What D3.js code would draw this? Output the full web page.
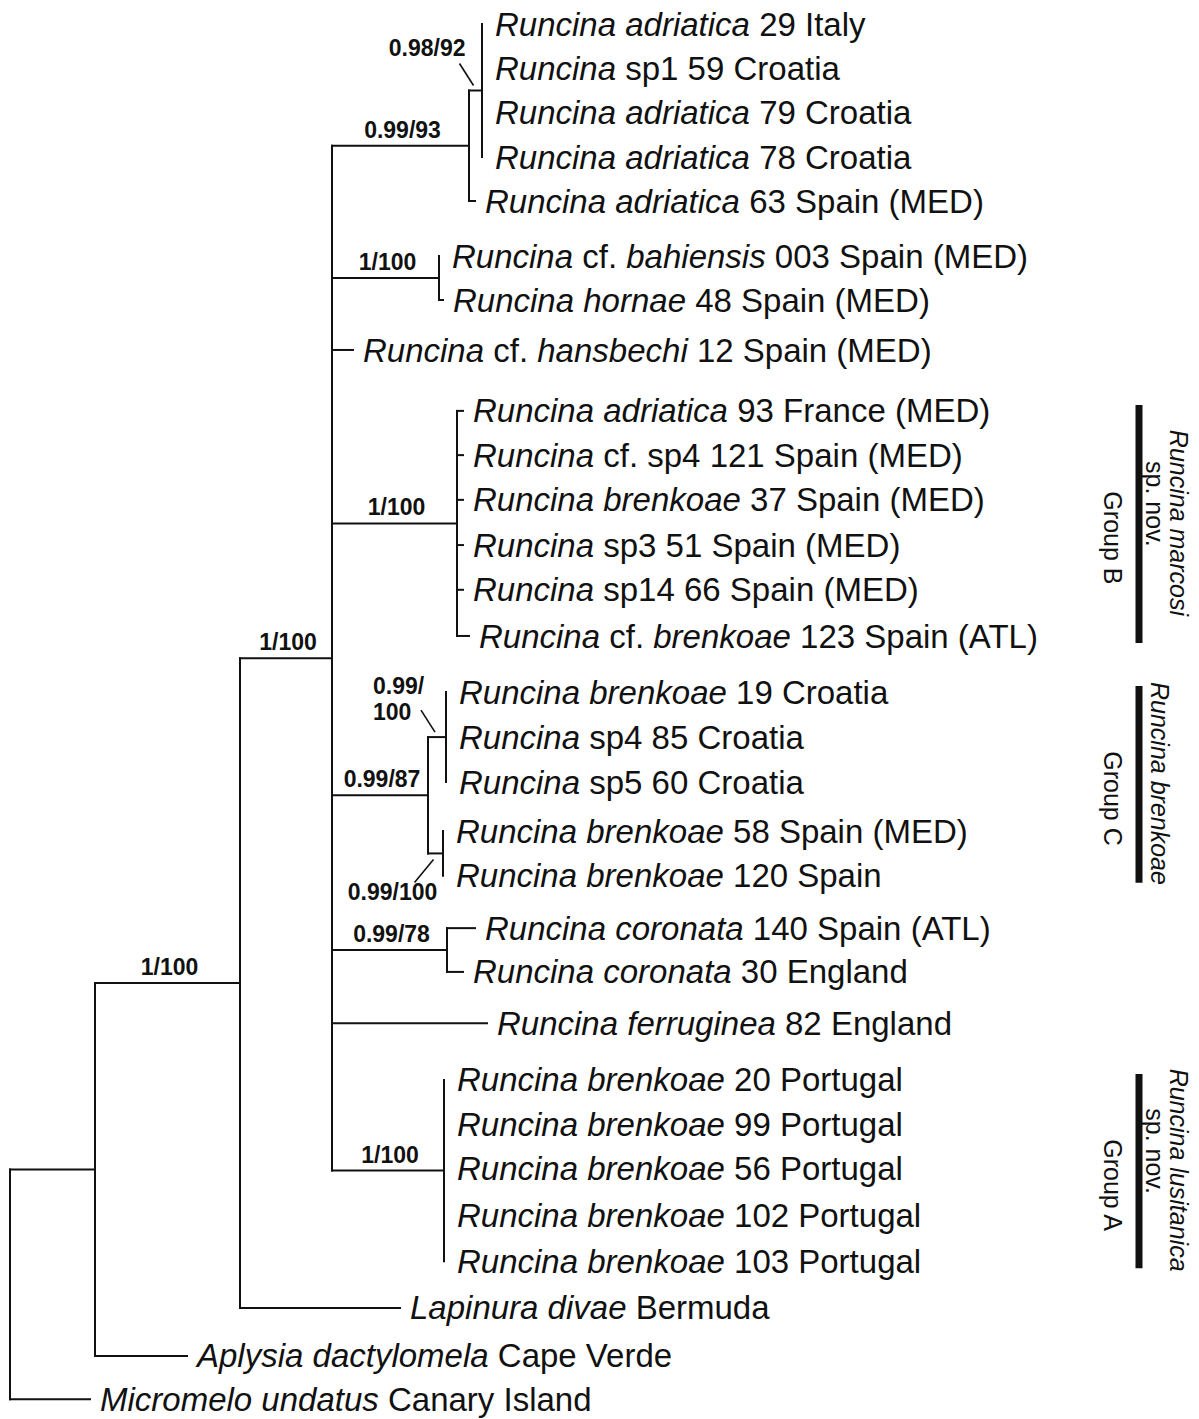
<!DOCTYPE html>
<html>
<head>
<meta charset="utf-8">
<script src="https://cdn.jsdelivr.net/npm/d3@7"></script>
<style>
  body { margin: 0; background: #fff; }
  svg { display: block; font-family: "Liberation Sans", Arial, sans-serif; }
  text { white-space: pre; }
</style>
</head>
<body>
<script>
"use strict";

// topology + branch lengths, leaves t0..t29 listed top to bottom
// ^ = support drawn with a leader line above, _ = below, | = line break
const newick =
  "((((((t0:0,t1:0,t2:0,t3:0)^0.98/92:0.013,t4:0.006)0.99/93:0.137," +
  "(t5:0,t6:0.004)1/100:0.107,t7:0.021," +
  "(t8:0.006,t9:0.006,t10:0.006,t11:0.006,t12:0.006,t13:0.012)1/100:0.125," +
  "((t14:0,t15:0,t16:0)^0.99/|100:0.018,(t17:0,t18:0)_0.99/100:0.015)0.99/87:0.096," +
  "(t19:0.028,t20:0.016)0.99/78:0.115,t21:0.155," +
  "(t22:0,t23:0,t24:0,t25:0,t26:0)1/100:0.112)1/100:0.092,t27:0.160)1/100:0.145," +
  "t28:0.092):0.085,t29:0.080);";

const taxa = [
  "*Runcina adriatica* 29 Italy",
  "*Runcina* sp1 59 Croatia",
  "*Runcina adriatica* 79 Croatia",
  "*Runcina adriatica* 78 Croatia",
  "*Runcina adriatica* 63 Spain (MED)",
  "*Runcina* cf. *bahiensis* 003 Spain (MED)",
  "*Runcina hornae* 48 Spain (MED)",
  "*Runcina* cf. *hansbechi* 12 Spain (MED)",
  "*Runcina adriatica* 93 France (MED)",
  "*Runcina* cf. sp4 121 Spain (MED)",
  "*Runcina brenkoae* 37 Spain (MED)",
  "*Runcina* sp3 51 Spain (MED)",
  "*Runcina* sp14 66 Spain (MED)",
  "*Runcina* cf. *brenkoae* 123 Spain (ATL)",
  "*Runcina brenkoae* 19 Croatia",
  "*Runcina* sp4 85 Croatia",
  "*Runcina* sp5 60 Croatia",
  "*Runcina brenkoae* 58 Spain (MED)",
  "*Runcina brenkoae* 120 Spain",
  "*Runcina coronata* 140 Spain (ATL)",
  "*Runcina coronata* 30 England",
  "*Runcina ferruginea* 82 England",
  "*Runcina brenkoae* 20 Portugal",
  "*Runcina brenkoae* 99 Portugal",
  "*Runcina brenkoae* 56 Portugal",
  "*Runcina brenkoae* 102 Portugal",
  "*Runcina brenkoae* 103 Portugal",
  "*Lapinura divae* Bermuda",
  "*Aplysia dactylomela* Cape Verde",
  "*Micromelo undatus* Canary Island"
];

// vertical slot of each leaf (rows are not perfectly even in the figure)
const leafRows = [0, 0.925, 1.85, 2.795, 3.72, 4.875, 5.8, 6.85, 8.13, 9.06,
  10.0, 10.95, 11.89, 12.86, 14.04, 15.0, 15.93, 16.96, 17.9, 19.0,
  19.92, 21.0, 22.19, 23.12, 24.06, 25.03, 26.0, 26.98, 27.99, 28.9];

const groupNames = ["Group B", "Group C", "Group A"];
const groupTaxa = ["*Runcina marcosi*|sp. nov.", "*Runcina brenkoae*", "*Runcina lusitanica*|sp. nov."];
const groupFirst = [8, 14, 22];
const groupLast = [13, 18, 26];

function parseNewick(s) {
  let i = 0;
  function node() {
    const n = { children: [] };
    if (s[i] === "(") {
      i++;
      n.children.push(node());
      while (s[i] === ",") { i++; n.children.push(node()); }
      i++;
    }
    let label = "";
    while (i < s.length && !",():;".includes(s[i])) label += s[i++];
    n.label = label;
    n.length = 0;
    if (s[i] === ":") {
      i++;
      let num = "";
      while (i < s.length && !",();".includes(s[i])) num += s[i++];
      n.length = +num;
    }
    if (!n.children.length) delete n.children;
    return n;
  }
  return node();
}

// writes "*italic* plain" markup as tspans
function rich(sel, str) {
  str.split("*").forEach((part, i) => {
    if (!part) return;
    sel.append("tspan").attr("font-style", i % 2 ? "italic" : "normal").text(part);
  });
}

const width = 1199, height = 1419;
const svg = d3.select("body").append("svg")
  .attr("width", width).attr("height", height)
  .attr("viewBox", `0 0 ${width} ${height}`);
svg.append("rect").attr("width", width).attr("height", height).attr("fill", "#fff");

const x = d3.scaleLinear().domain([0, 0.5]).range([10, 510]);
const y = d3.scaleLinear().domain([0, 29]).range([24, 1404]);

const root = d3.hierarchy(parseNewick(newick));
root.eachBefore(d => { d.len = d.parent ? d.parent.len + d.data.length : 0; });
root.eachAfter(d => {
  if (d.children) d.y = (d.children[0].y + d.children[d.children.length - 1].y) / 2;
  else d.y = y(leafRows[+d.data.label.slice(1)]);
});

const ink = "#111";
const g = svg.append("g")
  .attr("fill", "none").attr("stroke", ink)
  .attr("stroke-width", 2).attr("stroke-linecap", "square");

// horizontal branches
g.selectAll("path.h")
  .data(root.descendants().filter(d => d.parent && d.data.length > 0))
  .enter().append("path")
  .attr("class", "h")
  .attr("d", d => `M${x(d.parent.len)},${d.y}H${x(d.len)}`);

// vertical connectors
g.selectAll("path.v")
  .data(root.descendants().filter(d => d.children))
  .enter().append("path")
  .attr("class", "v")
  .attr("d", d => `M${x(d.len)},${d.children[0].y}V${d.children[d.children.length - 1].y}`);

// leaf names
svg.append("g").selectAll("text")
  .data(root.leaves())
  .enter().append("text")
  .attr("x", d => x(d.len) + (d.data.length > 0 ? 10 : 13))
  .attr("y", d => d.y)
  .attr("dy", "0.35em")
  .attr("font-size", 33)
  .attr("fill", ink)
  .each(function(d) { rich(d3.select(this), taxa[+d.data.label.slice(1)]); });

// support values
const sup = svg.append("g").attr("font-size", 23).attr("font-weight", "bold").attr("fill", ink);
root.descendants().filter(d => d.parent && d.children && d.data.label).forEach(d => {
  let lab = d.data.label;
  const mx = (x(d.parent.len) + x(d.len)) / 2, my = d.y;
  const kind = lab[0] === "^" ? "up" : lab[0] === "_" ? "down" : "plain";
  if (kind !== "plain") lab = lab.slice(1);
  const lines = lab.split("|");

  if (kind === "plain") {
    sup.append("text").attr("x", mx + 2).attr("y", my - 8)
      .attr("text-anchor", "middle").text(lab);
  } else if (kind === "up") {
    sup.append("line")
      .attr("x1", mx - 16).attr("y1", my - 27).attr("x2", mx - 2).attr("y2", my - 5)
      .attr("stroke", ink).attr("stroke-width", 1.6);
    if (lines.length === 1) {
      sup.append("text").attr("x", mx - 10).attr("y", my - 35)
        .attr("text-anchor", "end").text(lab);
    } else {
      lines.forEach((l, i) => {
        sup.append("text").attr("x", mx - 64).attr("y", my - 17 - (lines.length - 1 - i) * 26)
          .text(l);
      });
    }
  } else {
    sup.append("line")
      .attr("x1", mx - 21).attr("y1", my + 29).attr("x2", mx - 2).attr("y2", my + 6)
      .attr("stroke", ink).attr("stroke-width", 1.6);
    sup.append("text").attr("x", mx - 43).attr("y", my + 47)
      .attr("text-anchor", "middle").text(lab);
  }
});

// group bars on the right
const barX = 1139;
const grp = svg.append("g").attr("fill", ink).attr("font-size", 25);
groupNames.forEach((name, i) => {
  const y0 = y(leafRows[groupFirst[i]]) - 6, y1 = y(leafRows[groupLast[i]]) + 7;
  const mid = (y0 + y1) / 2;
  grp.append("line")
    .attr("x1", barX).attr("x2", barX).attr("y1", y0).attr("y2", y1)
    .attr("stroke", ink).attr("stroke-width", 7);

  grp.append("text")
    .attr("transform", `translate(${barX - 26},${mid + 14}) rotate(90)`)
    .attr("text-anchor", "middle").attr("dy", "0.35em")
    .text(name);

  const lines = groupTaxa[i].split("|");
  lines.forEach((l, j) => {
    const t = grp.append("text")
      .attr("transform", `translate(${barX + 21 + (lines.length - 1) * 19 - j * 24},${mid - 1 - j * 19}) rotate(90)`)
      .attr("text-anchor", "middle").attr("dy", "0.35em");
    rich(t, l);
  });
});
</script>
</body>
</html>
